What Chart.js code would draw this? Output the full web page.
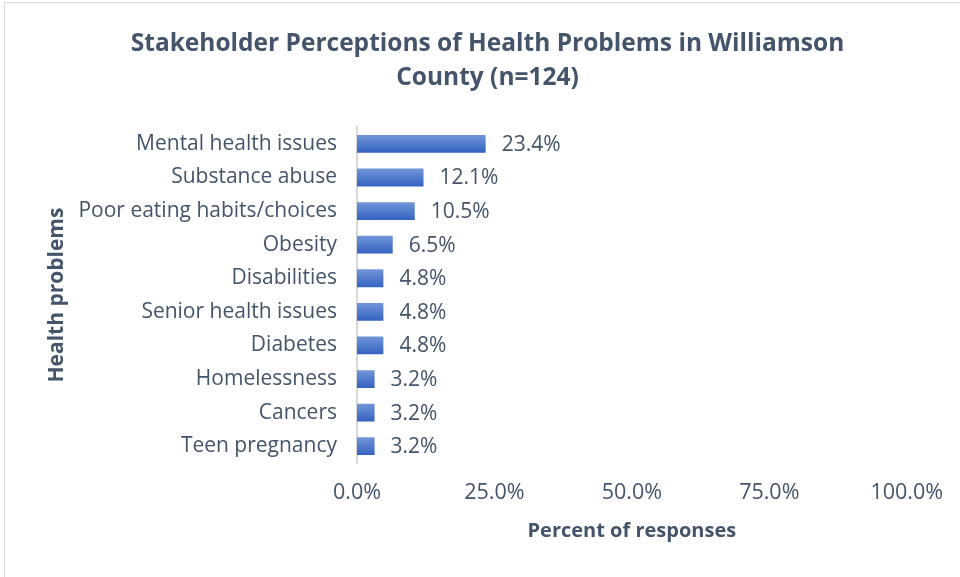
<!DOCTYPE html>
<html>
<head>
<meta charset="utf-8">
<script src="https://cdn.jsdelivr.net/npm/chart.js@4"></script>
<style>
  html, body { margin: 0; padding: 0; background: #fff; }
  #wrap { position: relative; width: 960px; height: 577px; }
  #frame { position: absolute; left: 4px; top: 2px; width: 970px; height: 590px; border: 1px solid #D9D9D9; box-sizing: border-box; pointer-events: none; }
</style>
</head>
<body>
<div id="wrap">
  <canvas id="chart" width="960" height="577"></canvas>
  <div id="frame"></div>
</div>
<script>
// Chart data
const categories = ['Mental health issues', 'Substance abuse', 'Poor eating habits/choices', 'Obesity',
    'Disabilities', 'Senior health issues', 'Diabetes', 'Homelessness', 'Cancers', 'Teen pregnancy'];
const percents = [23.4, 12.1, 10.5, 6.5, 4.8, 4.8, 4.8, 3.2, 3.2, 3.2];
const xTicks = [0, 25, 50, 75, 100];

const FONT = 'Open Sans, sans-serif';
const TEXT = '#44546A';

// Vertical gradient on each bar, like the Excel fill
function barFill(ctx) {
    const chart = ctx.chart;
    const yScale = chart.scales.y;
    if (!yScale || !chart.chartArea) return '#4A74C8';
    const mid = yScale.getPixelForValue(ctx.dataIndex);
    const g = chart.ctx.createLinearGradient(0, mid - 9, 0, mid + 9);
    g.addColorStop(0, '#7396DA');
    g.addColorStop(1, '#3362C0');
    return g;
}

// Value labels to the right of each bar
const valueLabels = {
    id: 'valueLabels',
    afterDatasetsDraw(chart) {
        const c = chart.ctx;
        const meta = chart.getDatasetMeta(0);
        c.save();
        c.font = '21px ' + FONT;
        c.fillStyle = TEXT;
        c.textAlign = 'left';
        c.textBaseline = 'middle';
        meta.data.forEach((bar, i) => {
            c.fillText(percents[i].toFixed(1) + '%', bar.x + 16, bar.y + 1);
        });
        c.restore();
    }
};

new Chart(document.getElementById('chart'), {
    type: 'bar',
    data: {
        labels: categories,
        datasets: [{
            data: percents,
            backgroundColor: barFill,
            borderWidth: 0,
            barPercentage: 0.53,
            categoryPercentage: 1
        }]
    },
    plugins: [valueLabels],
    options: {
        indexAxis: 'y',
        responsive: false,
        animation: false,
        layout: { padding: { left: 58, right: 43, top: 0, bottom: 0 } },
        plugins: {
            legend: { display: false },
            tooltip: { enabled: false },
            title: {
                display: true,
                text: ['Stakeholder Perceptions of Health Problems in Williamson', 'County (n=124)'],
                color: TEXT,
                font: { family: FONT, size: 24.5, weight: 'bold', lineHeight: 1.39 },
                padding: { top: 27, bottom: 32 }
            }
        },
        scales: {
            x: {
                min: 0,
                max: 100,
                afterFit(scale) { scale.height = 114; },
                afterBuildTicks(scale) { scale.ticks = xTicks.map(v => ({ value: v })); },
                grid: { display: false, drawTicks: false },
                border: { display: false },
                ticks: {
                    color: TEXT,
                    padding: 17,
                    font: { family: FONT, size: 21.5 },
                    callback: v => v.toFixed(1) + '%'
                },
                title: {
                    display: true,
                    text: 'Percent of responses',
                    color: TEXT,
                    font: { family: FONT, size: 20, weight: 'bold' },
                    padding: { top: 0, bottom: 34 }
                }
            },
            y: {
                afterFit(scale) { scale.width = 357 - 58; },
                grid: { display: false, drawTicks: false },
                border: { display: true, color: '#D9D9D9', width: 2 },
                ticks: {
                    color: TEXT,
                    padding: 20,
                    font: { family: FONT, size: 21 }
                },
                title: {
                    display: true,
                    text: 'Health problems',
                    color: TEXT,
                    font: { family: FONT, size: 21, weight: 'bold' },
                    padding: { top: -13.6, bottom: 0 }
                }
            }
        }
    }
});
</script>
</body>
</html>
